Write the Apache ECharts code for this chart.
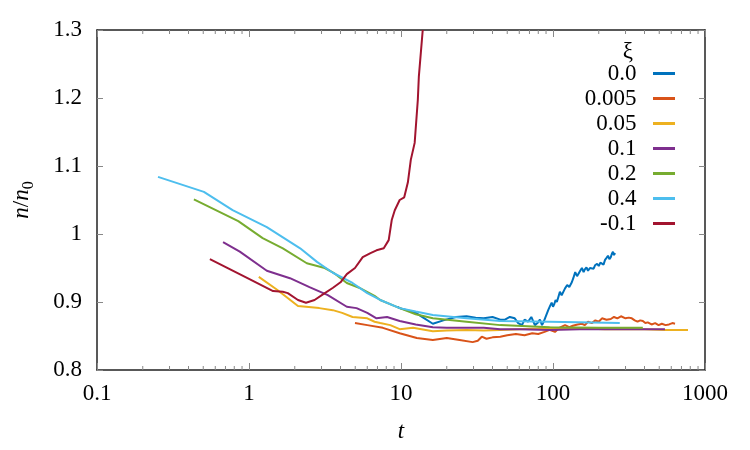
<!DOCTYPE html>
<html><head><meta charset="utf-8">
<script src="https://cdn.jsdelivr.net/npm/echarts@6/dist/echarts.min.js"></script>
<style>html,body{margin:0;padding:0;background:#fff}#c{width:750px;height:450px}</style>
</head><body><div id="c"></div>
<script>
var FONT = 'Liberation Serif';
var names = ['0.0', '0.005', '0.05', '0.1', '0.2', '0.4', '-0.1'];
var colors = ['#0072bd', '#d95319', '#edb120', '#7e2f8e', '#77ac30', '#4dbeee', '#a2142f'];
var xTickLabels = ['0.1', '1', '10', '100', '1000'];

var t_00 = [9.5, 9.8, 12.3, 14, 16.2, 19, 23, 27, 31, 35, 40, 45, 48.3, 52, 56, 59, 62.5, 65, 68.5, 72, 76, 79, 82, 84.7, 86.5, 88.6, 93, 96, 98, 100, 102, 104, 106, 108, 111, 114, 117, 120, 124, 128, 133, 136, 140, 144, 148, 152, 155, 159, 162, 166, 170, 175, 180, 185, 189, 195, 200, 205, 210, 215, 220, 225, 230, 235, 240, 244, 248, 252, 256];
var n_00 = [0.893, 0.891, 0.885, 0.877, 0.868, 0.873, 0.878, 0.879, 0.877, 0.876, 0.878, 0.874, 0.874, 0.878, 0.876, 0.869, 0.866, 0.874, 0.871, 0.878, 0.866, 0.869, 0.874, 0.866, 0.870, 0.876, 0.888, 0.895, 0.899, 0.893, 0.897, 0.903, 0.900, 0.906, 0.915, 0.910, 0.912, 0.920, 0.925, 0.922, 0.929, 0.935, 0.944, 0.938, 0.940, 0.947, 0.950, 0.944, 0.948, 0.951, 0.946, 0.950, 0.952, 0.949, 0.954, 0.956, 0.953, 0.958, 0.959, 0.955, 0.962, 0.965, 0.968, 0.963, 0.966, 0.971, 0.974, 0.969, 0.972];

var t_0005 = [4.98, 6.0, 7.6, 9.8, 12.7, 16.2, 20, 24.3, 29.6, 32, 34, 36.5, 40, 45, 50, 57, 65, 73, 80, 88, 95, 103, 110, 120, 128, 135, 145, 155, 162, 170, 180, 190, 200, 210, 225, 240, 252, 265, 280, 300, 315, 330, 345, 360, 375, 390, 405, 420, 445, 470, 495, 520, 550, 580, 610, 635];
var n_0005 = [0.869, 0.866, 0.862, 0.854, 0.847, 0.844, 0.847, 0.844, 0.841, 0.843, 0.849, 0.846, 0.848, 0.849, 0.851, 0.853, 0.851, 0.854, 0.853, 0.856, 0.859, 0.856, 0.862, 0.866, 0.863, 0.865, 0.867, 0.868, 0.866, 0.871, 0.869, 0.873, 0.871, 0.876, 0.874, 0.875, 0.878, 0.876, 0.879, 0.876, 0.877, 0.876, 0.873, 0.871, 0.873, 0.872, 0.869, 0.870, 0.867, 0.869, 0.866, 0.868, 0.866, 0.867, 0.869, 0.868];

var t_005 = [1.16, 1.53, 2.1, 2.9, 3.56, 4.1, 4.8, 6.0, 6.7, 7.3, 8.5, 9.8, 12, 16.2, 20, 27, 35, 45, 60, 80, 95, 120, 160, 220, 300, 400, 550, 773];
var n_005 = [0.937, 0.918, 0.894, 0.891, 0.888, 0.884, 0.878, 0.876, 0.871, 0.869, 0.866, 0.860, 0.862, 0.857, 0.858, 0.859, 0.858, 0.859, 0.860, 0.861, 0.862, 0.861, 0.861, 0.860, 0.860, 0.860, 0.859, 0.859];

var t_01 = [0.675, 0.87, 1.31, 1.86, 2.5, 3.3, 4.4, 5.1, 6.0, 6.9, 8.1, 9.8, 12.5, 16.2, 20, 27, 35, 45, 60, 95, 150, 250, 400, 545];
var n_01 = [0.988, 0.974, 0.946, 0.935, 0.922, 0.910, 0.893, 0.891, 0.884, 0.876, 0.878, 0.872, 0.867, 0.863, 0.862, 0.862, 0.862, 0.860, 0.860, 0.859, 0.860, 0.860, 0.860, 0.860];

var t_02 = [0.434, 0.85, 1.23, 1.67, 2.4, 3.15, 3.6, 4.4, 5.3, 6.7, 7.3, 9.8, 12.5, 16.2, 27, 45, 95, 200, 390];
var n_02 = [1.051, 1.019, 0.994, 0.979, 0.957, 0.950, 0.943, 0.928, 0.921, 0.909, 0.903, 0.891, 0.882, 0.876, 0.871, 0.866, 0.863, 0.862, 0.862];

var t_04 = [0.252, 0.505, 0.78, 1.31, 2.17, 2.8, 3.56, 4.8, 6.0, 7.3, 9.8, 12.5, 16.2, 27, 45, 95, 180, 275];
var n_04 = [1.084, 1.062, 1.035, 1.010, 0.979, 0.959, 0.943, 0.928, 0.913, 0.903, 0.891, 0.886, 0.881, 0.876, 0.872, 0.871, 0.870, 0.869];

var t_m01 = [0.553, 1.0, 1.44, 1.67, 1.8, 2.1, 2.37, 2.7, 3.1, 3.57, 4.0, 4.4, 4.98, 5.6, 6.3, 6.9, 7.7, 8.3, 8.7, 9.1, 9.8, 10.5, 11.1, 11.6, 12.3, 12.9, 13.1, 13.9];
var n_m01 = [0.963, 0.934, 0.916, 0.915, 0.913, 0.903, 0.899, 0.903, 0.912, 0.921, 0.929, 0.941, 0.950, 0.966, 0.972, 0.976, 0.979, 0.991, 1.021, 1.035, 1.050, 1.054, 1.076, 1.109, 1.134, 1.197, 1.231, 1.300];

var minorTicks = [0.2, 0.3, 0.4, 0.5, 0.6, 0.7, 0.8, 0.9, 2, 3, 4, 5, 6, 7, 8, 9, 20, 30, 40, 50, 60, 70, 80, 90, 200, 300, 400, 500, 600, 700, 800, 900];

var tArr = [t_00, t_0005, t_005, t_01, t_02, t_04, t_m01];
var nArr = [n_00, n_0005, n_005, n_01, n_02, n_04, n_m01];

function pairs(t, n) { return t.map(function (v, i) { return [v, n[i]]; }); }

var series = names.map(function (nm, k) {
  return {
    name: nm, type: 'line', data: pairs(tArr[k], nArr[k]),
    showSymbol: false, symbol: 'none', color: colors[k],
    lineStyle: { width: 2, color: colors[k] }, z: 3 + k, animation: false
  };
});

series.push({
  type: 'custom', silent: true, animation: false, z: 2,
  data: minorTicks.map(function (v) { return [v, 0.8]; }),
  renderItem: function (params, api) {
    var b = api.coord([api.value(0), 0.8]);
    var t = api.coord([api.value(0), 1.3]);
    return {
      type: 'group', children: [
        { type: 'line', shape: { x1: b[0], y1: b[1], x2: b[0], y2: b[1] - 4 }, style: { stroke: '#888', lineWidth: 1 } },
        { type: 'line', shape: { x1: t[0], y1: t[1], x2: t[0], y2: t[1] + 4 }, style: { stroke: '#888', lineWidth: 1 } }
      ]
    };
  }
});

var axisLineStyle = { show: true, onZero: false, lineStyle: { color: '#222', width: 1.5 } };
var tickStyle = { show: true, inside: true, length: 7, lineStyle: { color: '#888', width: 1 } };
var labelStyle = { fontFamily: FONT, fontSize: 23, color: '#000' };

function xLabel(v) {
  var e = Math.round(Math.log(v) / Math.LN10);
  return xTickLabels[e + 1] || '';
}

var chart = echarts.init(document.getElementById('c'), null, { renderer: 'canvas' });
chart.setOption({
  animation: false,
  backgroundColor: '#fff',
  grid: { left: 97, right: 45, top: 30, bottom: 80, containLabel: false },
  xAxis: [{
    type: 'log', logBase: 10, min: 0.1, max: 1000, position: 'bottom',
    axisLine: axisLineStyle, axisTick: tickStyle,
    axisLabel: Object.assign({ margin: 12, formatter: xLabel }, labelStyle),
    splitLine: { show: false },
    name: 't', nameLocation: 'middle', nameGap: 50,
    nameTextStyle: { fontFamily: FONT, fontSize: 23, fontStyle: 'italic', color: '#000' }
  }, {
    type: 'log', logBase: 10, min: 0.1, max: 1000, position: 'top',
    axisLine: axisLineStyle, axisTick: tickStyle, axisLabel: { show: false }, splitLine: { show: false }
  }],
  yAxis: [{
    type: 'value', min: 0.8, max: 1.3, interval: 0.1, position: 'left',
    axisLine: axisLineStyle, axisTick: Object.assign({}, tickStyle, { length: 6 }),
    axisLabel: Object.assign({ margin: 15 }, labelStyle),
    splitLine: { show: false },
    name: '{i|n}/{i|n}{s|0}', nameLocation: 'middle', nameGap: 60, nameRotate: 90,
    nameTextStyle: {
      fontFamily: FONT, fontSize: 23, color: '#000',
      rich: {
        i: { fontFamily: FONT, fontSize: 23, fontStyle: 'italic', color: '#000' },
        s: { fontFamily: FONT, fontSize: 16, color: '#000', padding: [14, 0, 0, 0] }
      }
    }
  }, {
    type: 'value', min: 0.8, max: 1.3, interval: 0.1, position: 'right',
    axisLine: axisLineStyle, axisTick: Object.assign({}, tickStyle, { length: 6 }),
    axisLabel: { show: false }, splitLine: { show: false }
  }],
  legend: {
    orient: 'vertical', right: 75, top: 61, align: 'right', padding: 0,
    itemWidth: 22, itemHeight: 3, itemGap: 0, icon: 'rect',
    data: names,
    formatter: function (n) { return n + '  '; },
    textStyle: { fontFamily: FONT, fontSize: 23, color: '#000', lineHeight: 25 }
  },
  graphic: [{
    type: 'text', x: 633, y: 52,
    style: { text: 'ξ', fontFamily: FONT, fontSize: 23, fill: '#000', align: 'right', verticalAlign: 'middle' }
  }],
  series: series
});
</script>
</body></html>
